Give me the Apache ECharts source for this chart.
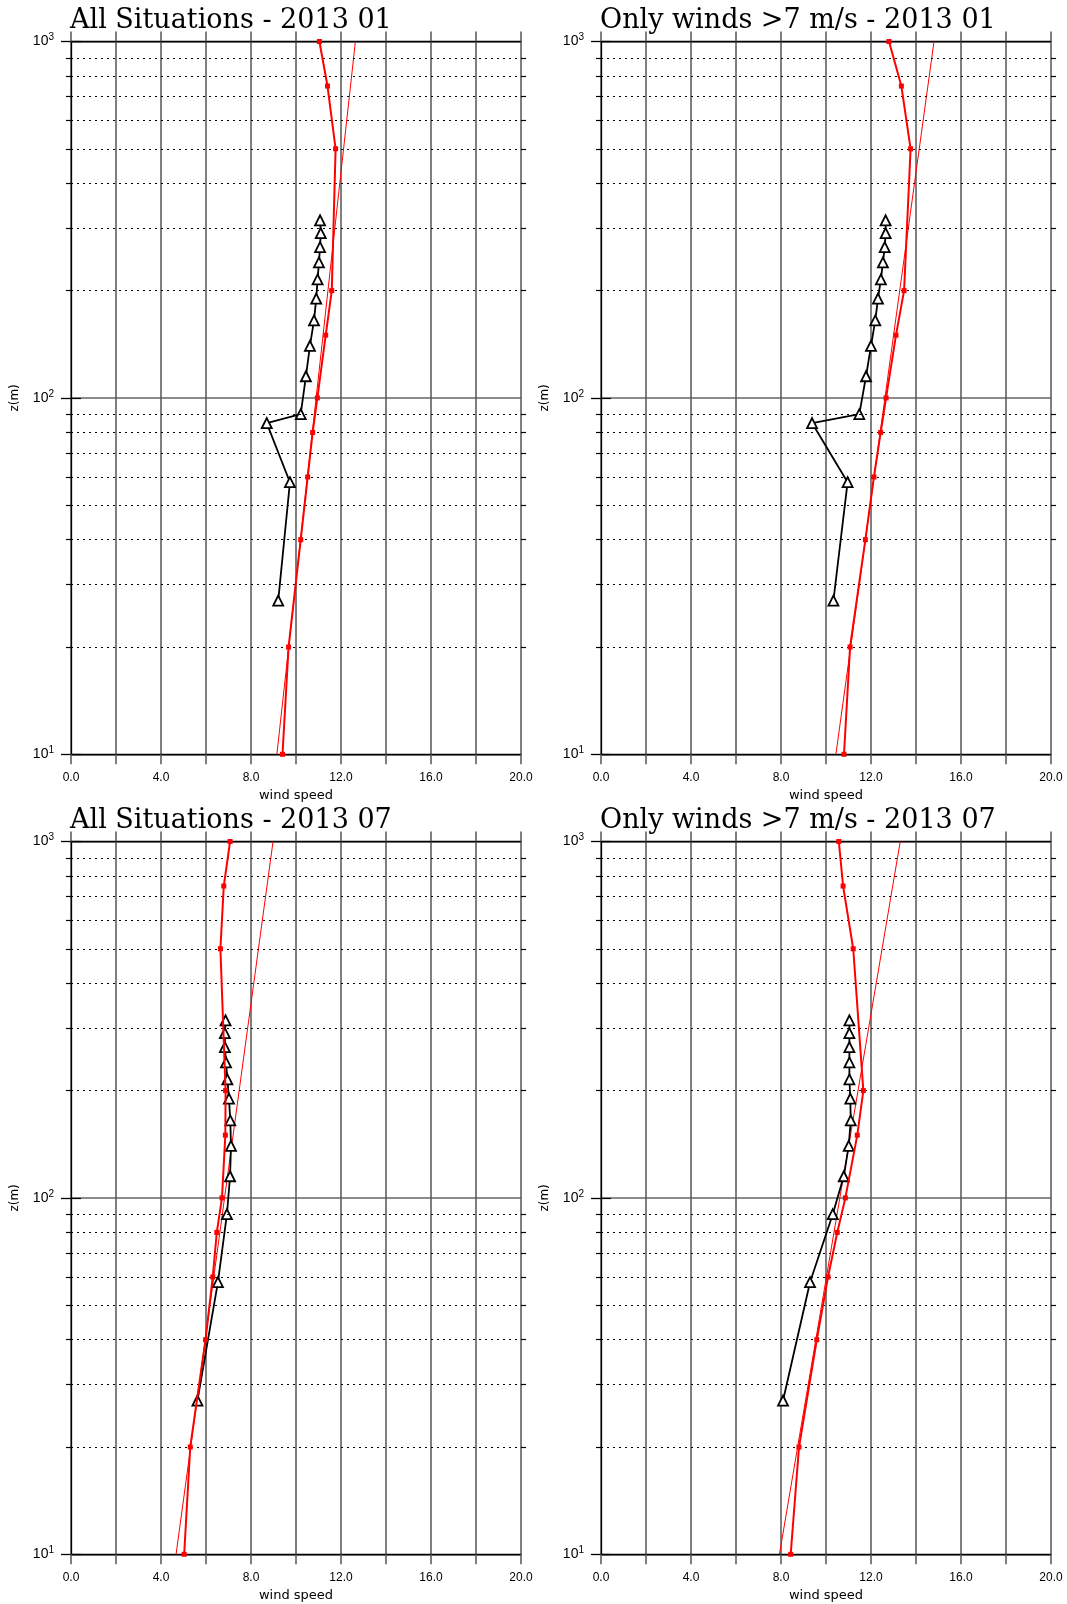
<!DOCTYPE html>
<html>
<head>
<meta charset="utf-8">
<title>wind profiles</title>
<script src="https://cdn.jsdelivr.net/npm/echarts@6/dist/echarts.min.js"></script>
<style>
    html, body { margin: 0; padding: 0; background: #fff; }
    #chart { width: 1067px; height: 1604px; }
</style>
</head>
<body>
<div id="chart"></div>
<script>
    // heights (m)
    var modelLevels = [10, 20, 40, 60, 80, 100, 150, 200, 500, 750, 1000];
    var obsLevelsJan = [27, 58, 85, 90, 115, 140, 165, 190, 215, 240, 265, 290, 315];
    var obsLevelsJul = [27, 58, 90, 115, 140, 165, 190, 215, 240, 265, 290, 315];
    var fitLevels = [10, 1000];
    var minorLevels = [20, 30, 40, 50, 60, 70, 80, 90, 200, 300, 400, 500, 600, 700, 800, 900];

    // 2013 01, all situations
    var modelAllJan = [9.4, 9.67, 10.21, 10.52, 10.74, 10.95, 11.32, 11.59, 11.76, 11.4, 11.04];
    var fitAllJan = [9.15, 12.64];
    var obsAllJan = [9.21, 9.73, 8.70, 10.21, 10.44, 10.62, 10.8, 10.9, 10.96, 11.02, 11.07, 11.1, 11.07];

    // 2013 01, winds > 7 m/s
    var modelStrongJan = [10.8, 11.07, 11.75, 12.13, 12.43, 12.67, 13.11, 13.47, 13.76, 13.35, 12.8];
    var fitStrongJan = [10.44, 14.8];
    var obsStrongJan = [10.33, 10.96, 9.38, 11.48, 11.78, 12.0, 12.19, 12.31, 12.44, 12.53, 12.61, 12.65, 12.65];

    // 2013 07, all situations
    var modelAllJul = [5.03, 5.30, 5.98, 6.30, 6.48, 6.71, 6.86, 6.87, 6.64, 6.79, 7.07];
    var fitAllJul = [4.67, 8.98];
    var obsAllJul = [5.62, 6.53, 6.93, 7.07, 7.11, 7.08, 7.02, 6.95, 6.89, 6.84, 6.84, 6.87];

    // 2013 07, winds > 7 m/s
    var modelStrongJul = [8.43, 8.8, 9.59, 10.09, 10.5, 10.86, 11.39, 11.66, 11.21, 10.76, 10.57];
    var fitStrongJul = [7.93, 13.3];
    var obsStrongJul = [8.09, 9.29, 10.3, 10.79, 11.01, 11.1, 11.08, 11.04, 11.04, 11.04, 11.04, 11.04];

    var panels = [
        {title: 'All Situations - 2013 01', left: 71, top: 41.5, model: modelAllJan, fit: fitAllJan, obs: obsAllJan, obsLevels: obsLevelsJan},
        {title: 'Only winds >7 m/s - 2013 01', left: 601, top: 41.5, model: modelStrongJan, fit: fitStrongJan, obs: obsStrongJan, obsLevels: obsLevelsJan},
        {title: 'All Situations - 2013 07', left: 71, top: 841.5, model: modelAllJul, fit: fitAllJul, obs: obsAllJul, obsLevels: obsLevelsJul},
        {title: 'Only winds >7 m/s - 2013 07', left: 601, top: 841.5, model: modelStrongJul, fit: fitStrongJul, obs: obsStrongJul, obsLevels: obsLevelsJul}
    ];

    var gridW = 450, gridH = 712.8;
    var gridColor = '#555';

    function pairs(values, levels) {
        return levels.map(function (z, i) { return [values[i], z]; });
    }

    // frame-only log axis (ticks outside, nothing else)
    function tickAxis(g, pos, len, values) {
        var ax = {
            type: 'log', logBase: 10, gridIndex: g, position: pos,
            min: 10, max: 1000,
            axisLine: {show: false},
            axisTick: {show: true, inside: false, length: len, lineStyle: {color: '#000', width: 1.2}},
            axisLabel: {show: false},
            splitLine: {show: false}
        };
        if (values) ax.axisTick.customValues = values;
        return ax;
    }

    var option = {
        animation: false,
        backgroundColor: '#fff',
        title: [], grid: [], xAxis: [], yAxis: [], series: []
    };

    panels.forEach(function (p, g) {
        option.title.push({
            text: p.title,
            left: p.left - 1,
            top: p.top - 34,
            padding: 0,
            textStyle: {fontFamily: 'DejaVu Serif', fontSize: 27, fontWeight: 'normal', color: '#000'}
        });
        option.grid.push({left: p.left, top: p.top, width: gridW, height: gridH, containLabel: false});

        // bottom axis with labels, top axis only for the frame
        option.xAxis.push({
            type: 'value', gridIndex: g, position: 'bottom',
            min: 0, max: 20, interval: 2,
            name: 'wind speed', nameLocation: 'middle', nameGap: 35,
            nameTextStyle: {fontFamily: 'DejaVu Sans', fontSize: 13, color: '#000'},
            axisLine: {show: true, onZero: false, lineStyle: {color: '#000', width: 1.3}},
            axisTick: {show: true, inside: false, length: 10, lineStyle: {color: gridColor, width: 1.5}},
            axisLabel: {
                margin: 17, color: '#000', fontFamily: 'Liberation Sans', fontSize: 12,
                showMinLabel: true, showMaxLabel: true,
                formatter: function (v) { return v % 4 === 0 ? v.toFixed(1) : ''; }
            },
            splitLine: {show: true, lineStyle: {color: gridColor, width: 1.5}}
        });
        option.xAxis.push({
            type: 'value', gridIndex: g, position: 'top',
            min: 0, max: 20, interval: 2,
            axisLine: {show: true, onZero: false, lineStyle: {color: '#000', width: 1.3}},
            axisTick: {show: true, inside: false, length: 10, lineStyle: {color: gridColor, width: 1.5}},
            axisLabel: {show: false},
            splitLine: {show: false}
        });

        option.yAxis.push({
            type: 'log', logBase: 10, gridIndex: g, position: 'left',
            min: 10, max: 1000,
            name: 'z(m)', nameLocation: 'middle', nameRotate: 90, nameGap: 50,
            nameTextStyle: {fontFamily: 'DejaVu Sans', fontSize: 12, color: '#000'},
            axisLine: {show: true, onZero: false, lineStyle: {color: '#000', width: 1.3}},
            axisTick: {show: true, inside: false, length: 10, lineStyle: {color: '#000', width: 1.3}},
            axisLabel: {
                margin: 17, color: '#000',
                formatter: function (v) { return '{b|10}{sup|' + Math.round(Math.log10(v)) + '}'; },
                rich: {
                    b: {fontSize: 14, fontFamily: 'Liberation Sans', color: '#000', lineHeight: 18},
                    sup: {fontSize: 10, verticalAlign: 'top', fontFamily: 'Liberation Sans', color: '#000'}
                }
            },
            splitLine: {show: true, lineStyle: {color: '#666', width: 1.5}}
        });
        option.yAxis.push(tickAxis(g, 'right', 10, null));
        option.yAxis.push(tickAxis(g, 'left', 5, minorLevels));
        option.yAxis.push(tickAxis(g, 'right', 5, minorLevels));

        var xi = 2 * g, yi = 4 * g;

        // dotted lines at the intermediate heights
        option.series.push({
            type: 'line', xAxisIndex: xi, yAxisIndex: yi, data: [], z: 1, silent: true,
            markLine: {
                silent: true, symbol: 'none', label: {show: false},
                lineStyle: {color: '#000', width: 1, type: [2, 4]},
                data: minorLevels.map(function (z) { return {yAxis: z}; })
            }
        });
        // thin fit line
        option.series.push({
            type: 'line', xAxisIndex: xi, yAxisIndex: yi, z: 3,
            data: pairs(p.fit, fitLevels),
            showSymbol: false, symbol: 'none',
            lineStyle: {color: '#ff0000', width: 1}
        });
        // observations, open triangles
        option.series.push({
            type: 'line', xAxisIndex: xi, yAxisIndex: yi, z: 4,
            data: pairs(p.obs, p.obsLevels),
            symbol: 'triangle', symbolSize: 10, showAllSymbol: true,
            lineStyle: {color: '#000', width: 1.8},
            itemStyle: {color: '#fff', borderColor: '#000', borderWidth: 1.8}
        });
        // model levels, small squares
        option.series.push({
            type: 'line', xAxisIndex: xi, yAxisIndex: yi, z: 5,
            data: pairs(p.model, modelLevels),
            symbol: 'rect', symbolSize: 5, showAllSymbol: true,
            lineStyle: {color: '#ff0000', width: 2},
            itemStyle: {color: '#ff0000'}
        });
    });

    var myChart = echarts.init(document.getElementById('chart'), null, {renderer: 'canvas'});
    myChart.setOption(option);
</script>
</body>
</html>
